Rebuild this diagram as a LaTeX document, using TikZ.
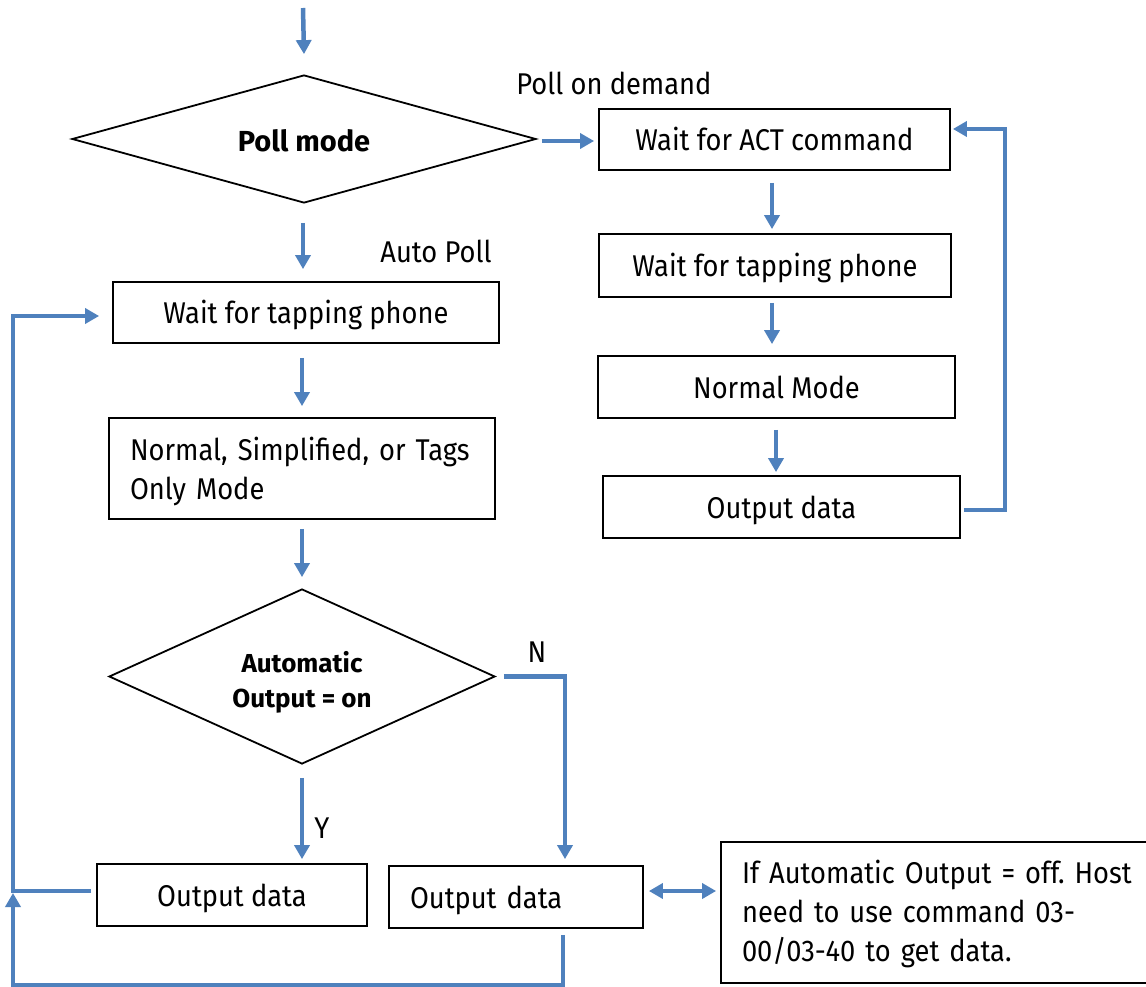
\documentclass[tikz,border=0pt]{standalone}
\usepackage{fontspec}
\setmainfont{Fira Sans}[FakeStretch=0.91]
\newfontfamily\diafont{Fira Sans}
\usetikzlibrary{shapes.geometric,arrows.meta,calc}
\definecolor{flowblue}{RGB}{79,129,189}
\frenchspacing
\tikzset{
  box/.style={draw=black,line width=1.8pt,rectangle,inner sep=0pt,font=\fontsize{30}{39}\selectfont,align=center},
  onebox/.style={box,text height=28pt,text depth=6pt},
  dia/.style={draw=black,line width=1.8pt,diamond,inner sep=0pt,align=center},
  arr/.style={draw=flowblue,line width=4.5pt,-{Triangle[width=15pt,length=14pt]}},
  biarr/.style={draw=flowblue,line width=4.5pt,{Triangle[width=15pt,length=14pt]}-{Triangle[width=15pt,length=14pt]}},
  lbl/.style={inner sep=0pt,font=\fontsize{30}{39}\selectfont},
}
\begin{document}
\begin{tikzpicture}[x=1pt,y=-1pt]
\useasboundingbox (0,0) rectangle (1146,987);
\clip (0,0) rectangle (1146,987);
\fill[white] (0,0) rectangle (1146,987);
% nodes
\node[dia,aspect=3.6,minimum width=464pt,minimum height=128pt,text height=30pt,text depth=4pt,font=\diafont\bfseries\fontsize{29}{39}\selectfont] (d1) at (304,139) {Poll mode};
\node[onebox,minimum width=351pt,minimum height=61pt] (act) at (774.5,139.5) {Wait for ACT command};
\node[onebox,minimum width=352pt,minimum height=63pt] (tap2) at (775,265.5) {Wait for tapping phone};
\node[onebox,minimum width=357pt,minimum height=62pt] (nm) at (776.5,387) {Normal Mode};
\node[onebox,minimum width=357pt,minimum height=62pt] (out2) at (781.5,507) {Output data};
\node[onebox,minimum width=386pt,minimum height=61pt] (tap1) at (306,312.5) {Wait for tapping phone};
\node[box,minimum width=386pt,minimum height=101pt,text width=344pt,align=left] (norm) at (302,468.5) {\raisebox{-4pt}[\height][\depth]{\begin{tabular}{@{}l@{}}Normal, Simplified, or Tags\\Only Mode\end{tabular}}};
\node[dia,aspect=2.2,minimum width=386pt,minimum height=175pt,font=\diafont\bfseries\fontsize{26}{35}\selectfont] (d2) at (302,676.5) {\raisebox{-6pt}[\height][\depth]{\begin{tabular}{@{}c@{}}Automatic\\Output = on\end{tabular}}};
\node[onebox,minimum width=270pt,minimum height=62pt] (outY) at (232,895) {Output data};
\node[onebox,minimum width=254pt,minimum height=62pt,text width=212pt,align=left] (outN) at (516,897) {Output data};
\node[box,minimum width=500pt,minimum height=141pt,text width=458pt,align=left] (info) at (971,912.5) {\raisebox{-2pt}[\height][\depth]{\begin{tabular}{@{}l@{}}If Automatic Output = off. Host\\need to use command 03-\\00/03-40 to get data.\end{tabular}}};
% labels
\node[lbl] (lpod) at (614,83) {Poll on demand};
\node[lbl] (lap) at (436,251) {Auto Poll};
\node[lbl] (lN) at (537,652) {N};
\node[lbl] (lY) at (322,828) {Y};
% helper coordinates
\coordinate (start) at (303,8);
\coordinate (L) at (13,0);
\coordinate (R) at (1005,0);
% connectors
\draw[arr] (start) -- ($(d1.north)+(0,-20)$);
\draw[arr] ($(d1.east)+(5,2)$) -- ($(act.west)+(-4,1.5)$);
\draw[arr] ($(norm.north |- d1.south)+(1,19)$) -- ($(norm.north |- tap1.north)+(1,-12)$);
\draw[arr] ($(norm.north |- tap1.south)+(0,14)$) -- ($(norm.north)+(0,-11)$);
\draw[arr] ($(norm.south)+(0,9)$) -- ($(d2.north)+(0,-11)$);
\draw[arr] ($(d2.south)+(0,13)$) -- ($(d2.south |- outY.north)+(0,-4)$);
\draw[arr] ($(d2.east)+(8,0)$) -| ($(outN.north)+(49,-6)$);
\draw[arr] ($(outY.west)+(-5,-4)$) -| ($(L |- tap1.west)+(0,3.5)$) -- ($(tap1.west)+(-13,3.5)$);
\draw[arr] ($(outN.south)+(47,6)$) |- (L |- 0,985) -- ($(L |- outY.west)+(0,-2)$);
\draw[arr] ($(act.south)+(-2.5,12)$) -- ($(tap2.north)+(-3,-4)$);
\draw[arr] ($(tap2.south)+(-3,5)$) -- ($(nm.north)+(-4.5,-11)$);
\draw[arr] ($(nm.south)+(-0.5,11)$) -- ($(out2.north)+(-5.5,-3)$);
\draw[arr] ($(out2.east)+(3,3)$) -| ($(R |- act.east)+(0,-10.5)$) -- ($(act.east)+(2,-10.5)$);
\draw[biarr] ($(outN.east)+(5,-6)$) -- ($(info.west)+(-4,-21.5)$);
\end{tikzpicture}
\end{document}
